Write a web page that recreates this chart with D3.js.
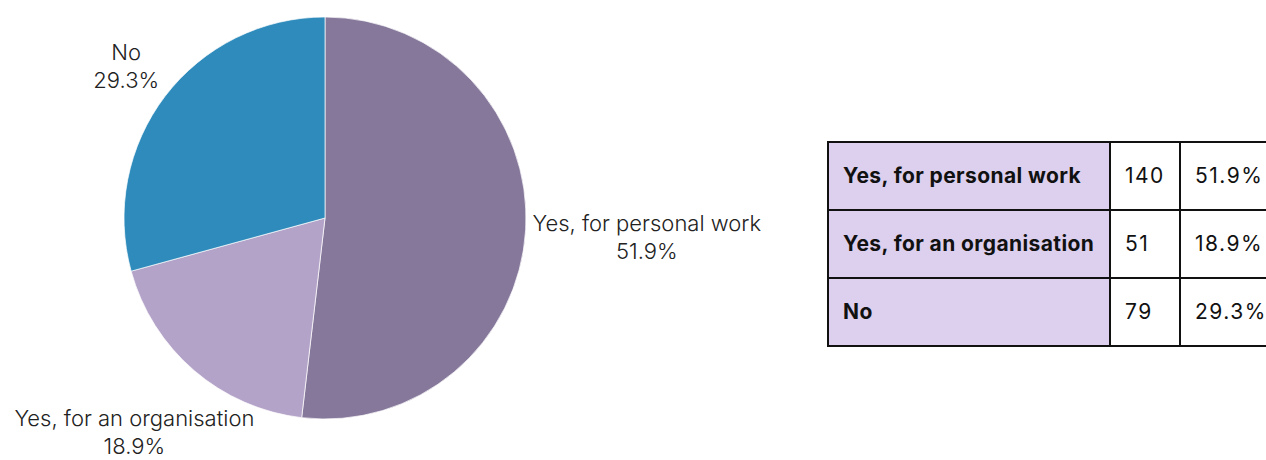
<!DOCTYPE html>
<html lang="en">
<head>
<meta charset="UTF-8">
<script src="https://cdn.jsdelivr.net/npm/d3@7"></script>
<style>
  body { margin: 0; background: #fff; }
  svg { display: block; }
</style>
</head>
<body>
<svg width="1266" height="460"></svg>
<script>
// data
const categories = ["Yes, for personal work", "Yes, for an organisation", "No"];
const counts = [140, 51, 79];
const percents = ["51.9%", "18.9%", "29.3%"];
const colors = ["#86789b", "#b4a3c8", "#2e8bbb"];

const svg = d3.select("svg");
const font = "Inter, 'Noto Sans', sans-serif";
const W = 1266, H = 460;

// pie
const cx = 325, cy = 218, radius = 201;
const pie = d3.pie().sort(null).value(d => d)(counts);
const arc = d3.arc().innerRadius(0).outerRadius(radius);

const g = svg.append("g").attr("transform", `translate(${cx},${cy})`);
g.selectAll("path")
  .data(pie)
  .join("path")
  .attr("d", arc)
  .attr("fill", (d, i) => colors[i])
  .attr("stroke", "#fff")
  .attr("stroke-width", 0.7);

// labels pushed out along mid angle until box clears circle
const labels = g.selectAll("g.lbl")
  .data(pie)
  .join("g")
  .attr("class", "lbl");

labels.append("text")
  .attr("text-anchor", "middle")
  .attr("font-family", font)
  .attr("font-size", 22)
  .attr("font-weight", 300)
  .attr("fill", "#222")
  .selectAll("tspan")
  .data((d, i) => [categories[i], percents[i]])
  .join("tspan")
  .attr("x", 0)
  .attr("y", (d, i) => i * 28 - 8)
  .text(d => d);

labels.each(function(d) {
  const b = this.getBBox();
  const a = (d.startAngle + d.endAngle) / 2;
  const ux = Math.sin(a), uy = -Math.cos(a);
  const ox = b.x + b.width / 2, oy = b.y + b.height / 2;
  const gap = 6;
  let dist = 0;
  for (let t = 0; t < 600; t += 0.5) {
    const px = ux * t, py = uy * t;
    const x0 = px - b.width / 2, x1 = px + b.width / 2;
    const y0 = py - b.height / 2, y1 = py + b.height / 2;
    const qx = Math.max(x0, Math.min(0, x1));
    const qy = Math.max(y0, Math.min(0, y1));
    if (Math.hypot(qx, qy) >= radius + gap) { dist = t; break; }
  }
  let tx = ux * dist - ox, ty = uy * dist - oy;
  // keep inside the picture
  const bottom = cy + ty + b.y + b.height;
  if (bottom > H - 1) ty -= bottom - (H - 1);
  d3.select(this).attr("transform", `translate(${tx},${ty})`);
});

// table
const colEdges = [828, 1110, 1180, 1268];
const y = d3.scaleBand().domain(categories).range([142, 346]);

const rows = svg.append("g").selectAll("g")
  .data(categories)
  .join("g")
  .attr("transform", d => `translate(0,${y(d)})`);

rows.append("rect")
  .attr("x", colEdges[0])
  .attr("width", colEdges[1] - colEdges[0])
  .attr("height", y.bandwidth())
  .attr("fill", "#ddd0ee");

rows.append("text")
  .attr("x", colEdges[0] + 15)
  .attr("y", y.bandwidth() / 2 + 7)
  .attr("font-family", font)
  .attr("font-size", 21)
  .attr("font-weight", 700)
  .attr("letter-spacing", 0.4)
  .attr("fill", "#111")
  .text(d => d);

rows.append("text")
  .attr("x", colEdges[1] + 15)
  .attr("y", y.bandwidth() / 2 + 7)
  .attr("font-family", font)
  .attr("font-size", 21)
  .attr("letter-spacing", 1.5)
  .attr("fill", "#111")
  .text((d, i) => counts[i]);

rows.append("text")
  .attr("x", colEdges[2] + 15)
  .attr("y", y.bandwidth() / 2 + 7)
  .attr("font-family", font)
  .attr("font-size", 21)
  .attr("letter-spacing", 1.5)
  .attr("fill", "#111")
  .text((d, i) => percents[i]);

const grid = svg.append("g").attr("stroke", "#111").attr("stroke-width", 2);
grid.selectAll("line.h")
  .data([...categories.map(d => y(d)), y.range()[1]])
  .join("line")
  .attr("x1", colEdges[0] - 1).attr("x2", colEdges[3])
  .attr("y1", d => d).attr("y2", d => d);
grid.selectAll("line.v")
  .data(colEdges)
  .join("line")
  .attr("y1", y.range()[0]).attr("y2", y.range()[1])
  .attr("x1", d => d).attr("x2", d => d);
</script>
</body>
</html>
